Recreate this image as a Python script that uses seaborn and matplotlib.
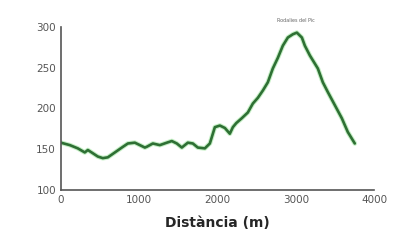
import matplotlib
matplotlib.use("Agg")
import matplotlib.pyplot as plt
import seaborn as sns
import pandas as pd

# elevation profile
distance = [0, 115, 217, 306, 345, 409, 472, 536, 600, 690, 779, 856, 945,
            1009, 1073, 1098, 1175, 1264, 1354, 1417, 1481, 1545, 1622, 1686,
            1749, 1839, 1903, 1967, 2031, 2095, 2158, 2197, 2240, 2311, 2388,
            2452, 2516, 2580, 2643, 2707, 2771, 2835, 2899, 2963, 3014, 3078,
            3116, 3180, 3282, 3346, 3410, 3499, 3588, 3665, 3754]
altitude = [158, 155, 151, 146, 149, 145, 141, 139, 140, 146, 152, 157, 158,
            155, 152, 153, 157, 155, 158, 160, 157, 152, 158, 157,
            152, 151, 157, 177, 179, 176, 169, 177, 182, 188, 195,
            206, 213, 222, 232, 249, 262, 277, 287, 291, 293, 287,
            277, 265, 249, 232, 220, 204, 188, 171, 157]
df = pd.DataFrame({"Distància (m)": distance, "alt": altitude})

sns.set_style("white")
fig = plt.figure(figsize=(3.95, 2.47), dpi=100)
ax = fig.add_axes([0.154, 0.231, 0.793, 0.66])

sns.lineplot(data=df, x="Distància (m)", y="alt", ax=ax, color="#aeeaae", lw=3.4, alpha=0.7)
sns.lineplot(data=df, x="Distància (m)", y="alt", ax=ax, color="#2e7034", lw=1.9)

ax.set_xlim(0, 4000)
ax.set_ylim(100, 300)
ax.set_xticks([0, 1000, 2000, 3000, 4000])
ax.set_yticks([100, 150, 200, 250, 300])
ax.tick_params(labelsize=7.5, labelcolor="#555555", colors="#555555",
               direction="inout", length=5, width=1, pad=1)
for s in ["top", "right"]:
    ax.spines[s].set_visible(False)
for s in ["left", "bottom"]:
    ax.spines[s].set_color("#555555")
    ax.spines[s].set_linewidth(1.2)
ax.set_ylabel("")
ax.set_xlabel("Distància (m)", fontsize=10, fontweight="bold", labelpad=8)
ax.text(3000, 305, "Rodalies del Pic", fontsize=3.5, color="#666666",
        ha="center", va="bottom")

plt.savefig("out.png", dpi=100)
